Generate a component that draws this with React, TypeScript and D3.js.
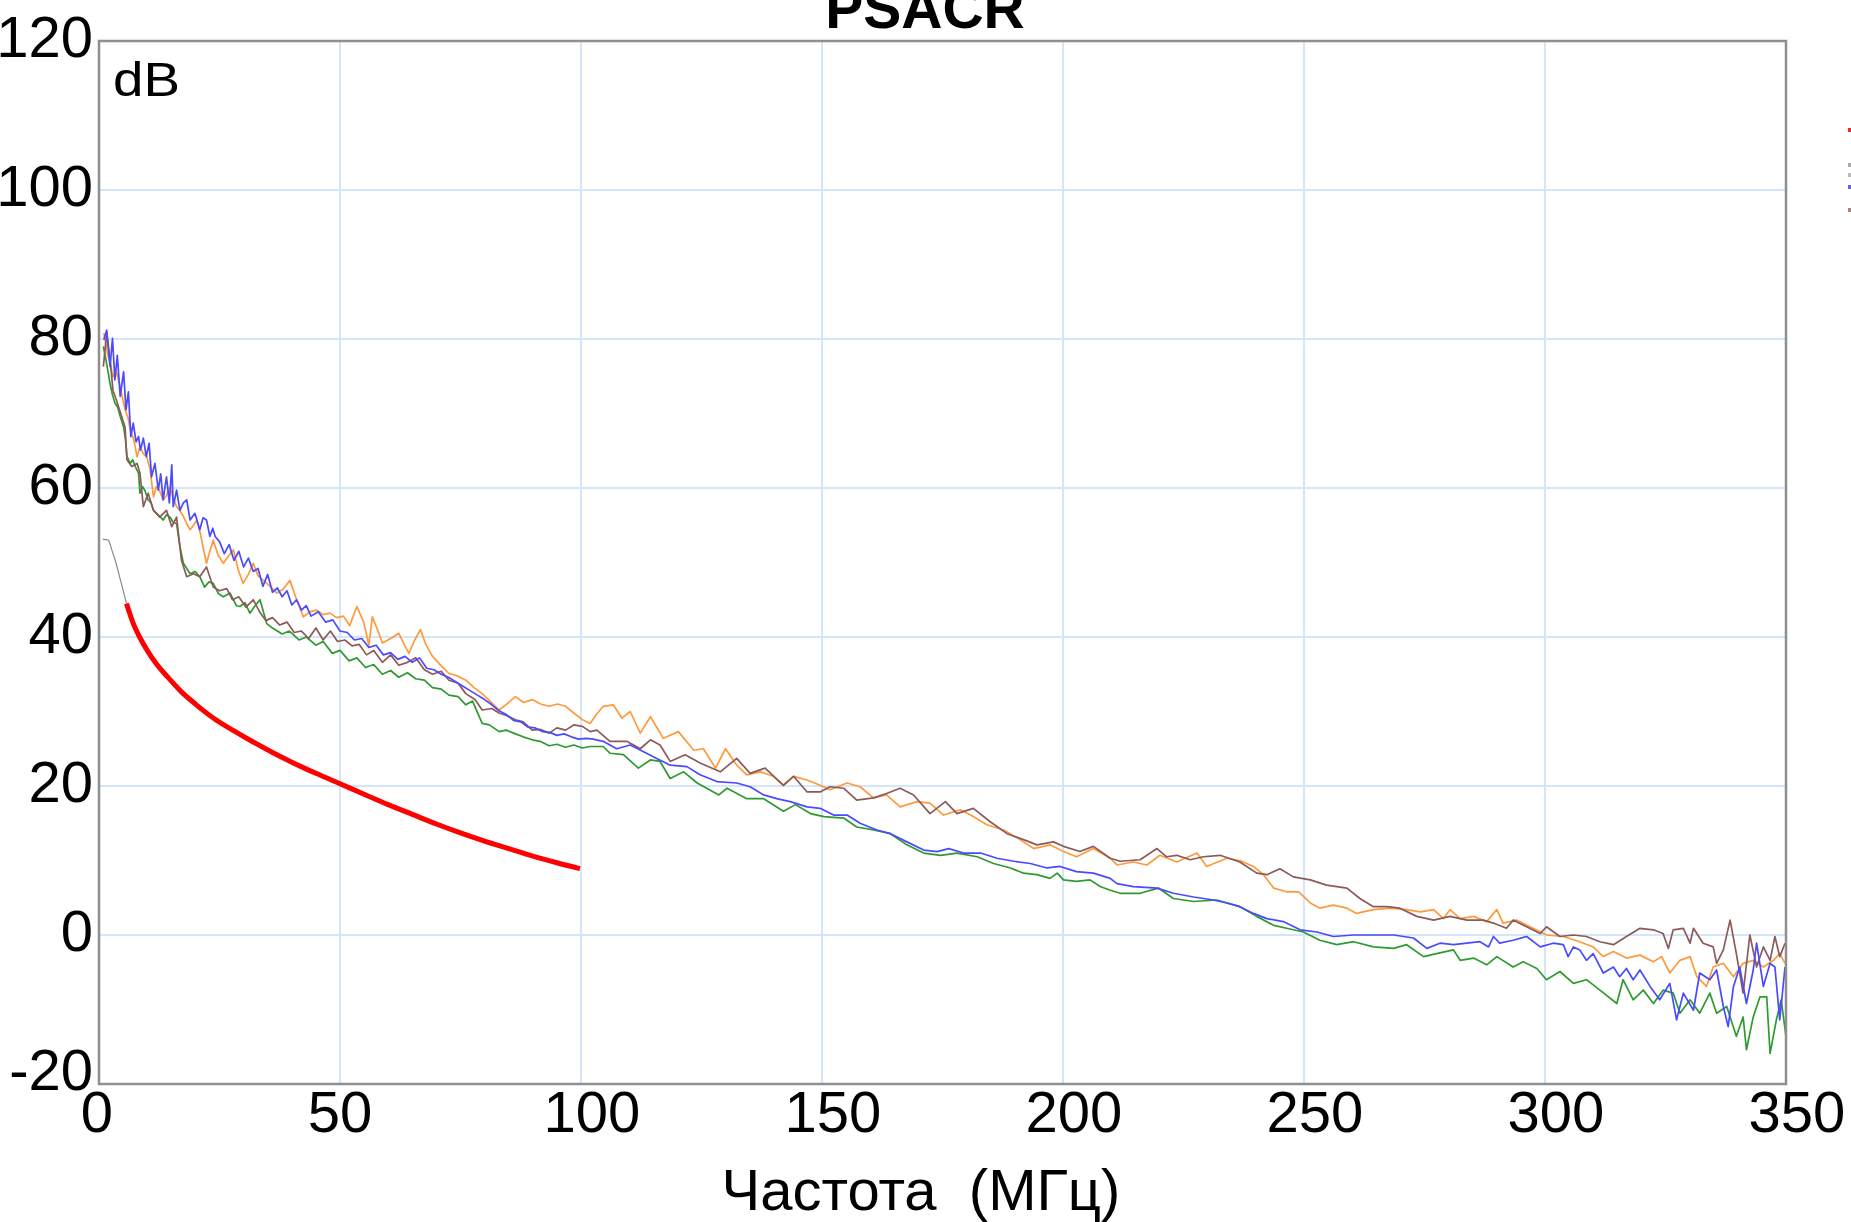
import React from "react";
import * as d3 from "d3";

const xTicks = [0, 50, 100, 150, 200, 250, 300, 350];
const yTicks = [-20, 0, 20, 40, 60, 80, 100, 120];
const titleText = "PSACR";
const xAxisTitle = "Частота  (МГц)";
const yUnit = "dB";

type P = [number, number];

const limitGray: P[] = [[0.8,53.1],[1.9,53.0],[2.7,51.6],[3.5,50.0],[4.3,48.0],[5.0,46.3],[5.7,44.5]];

const limitRed: P[] = [[5.7,44.5],[7.0,42.0],[8.5,39.9],[10.0,38.2],[12.0,36.3],[14.0,34.8],[17.0,32.7],[20.0,31.0],[24.0,29.0],[28.0,27.4],[32.0,25.9],[36.0,24.5],[40.0,23.2],[45.0,21.7],[50.0,20.3],[55.0,18.9],[60.0,17.5],[65.0,16.2],[70.0,14.9],[75.0,13.7],[80.0,12.6],[85.0,11.6],[90.0,10.6],[95.0,9.7],[99.8,8.9]];

const orangeData: P[] = [[1.0,80.8],[1.5,79.0],[1.9,77.6],[2.4,76.5],[2.9,74.9],[3.5,75.8],[4.4,73.6],[4.9,72.0],[5.4,70.5],[6.0,69.5],[6.5,67.8],[7.2,66.5],[7.9,64.2],[8.5,65.5],[9.2,64.6],[9.9,64.2],[10.6,62.5],[11.3,58.8],[11.9,60.2],[12.6,59.6],[13.3,58.4],[14.0,59.0],[14.7,60.2],[15.4,58.6],[16.1,57.5],[16.8,57.0],[17.5,56.2],[18.2,55.2],[18.9,54.4],[19.6,55.0],[20.3,55.7],[21.0,54.0],[21.6,52.0],[22.3,49.9],[23.0,51.5],[23.7,53.0],[24.7,51.0],[25.8,49.9],[26.8,50.8],[27.9,51.7],[28.9,49.0],[29.9,47.2],[31.0,48.4],[32.0,49.9],[33.0,48.2],[34.1,47.6],[35.5,46.8],[36.9,45.9],[38.2,46.4],[39.6,47.6],[41.0,45.0],[42.4,42.7],[43.8,43.4],[45.2,43.6],[46.5,43.0],[47.9,43.2],[49.3,42.6],[50.7,42.8],[52.0,41.5],[53.5,44.1],[54.9,42.0],[56.0,38.9],[56.7,42.7],[58.0,40.6],[58.8,39.2],[60.5,39.8],[62.2,40.5],[63.3,39.0],[64.3,37.8],[65.5,39.6],[66.7,41.0],[67.8,39.0],[69.2,37.4],[70.9,36.2],[72.6,35.1],[74.3,34.8],[76.1,34.2],[77.8,33.2],[79.5,32.4],[81.3,31.3],[83.0,30.2],[84.6,31.0],[86.4,32.0],[88.1,31.2],[89.9,31.6],[91.6,31.0],[93.4,30.7],[95.1,31.0],[96.8,30.7],[98.5,29.8],[100.3,28.9],[101.9,28.4],[103.2,29.6],[104.6,30.7],[106.7,30.9],[108.5,29.1],[110.2,30.0],[112.3,27.1],[114.4,29.3],[117.1,26.4],[120.2,27.3],[123.4,24.8],[125.4,25.0],[127.9,22.4],[130.0,25.0],[132.3,22.8],[134.4,21.5],[137.2,21.9],[139.9,21.3],[142.0,20.1],[144.1,21.3],[146.9,20.8],[149.6,20.1],[151.7,19.5],[155.2,20.4],[157.9,19.9],[160.7,18.4],[163.4,18.8],[166.2,17.2],[169.7,17.9],[172.4,17.7],[175.2,16.1],[178.7,16.8],[181.4,15.9],[184.2,14.8],[187.7,14.1],[191.1,12.8],[193.9,11.6],[197.3,12.1],[200.1,11.2],[202.8,10.5],[206.3,11.6],[209.8,10.3],[211.2,9.4],[214.6,9.8],[217.4,9.4],[220.1,10.7],[223.6,9.8],[227.8,11.0],[229.8,9.2],[234.0,10.3],[236.7,10.0],[239.5,9.2],[241.6,8.1],[243.7,6.3],[246.4,5.8],[248.9,5.8],[251.3,4.3],[253.3,3.6],[256.1,4.0],[258.9,3.6],[260.9,2.9],[264.4,3.4],[267.9,3.6],[271.3,3.4],[274.1,3.1],[276.9,3.4],[278.9,2.2],[280.3,3.4],[282.4,2.2],[285.2,2.5],[287.9,1.8],[290.0,3.4],[291.3,1.6],[294.1,2.0],[296.9,1.1],[300.3,0.0],[303.8,-0.2],[307.2,-0.9],[310.0,-1.6],[312.1,-2.9],[314.2,-2.2],[316.9,-3.1],[319.7,-2.7],[322.5,-3.6],[324.2,-2.9],[325.9,-5.1],[328.0,-3.4],[330.1,-2.9],[331.5,-5.6],[333.5,-6.9],[334.9,-4.3],[337.0,-3.8],[339.1,-5.6],[341.1,-3.8],[343.2,-3.4],[345.3,-4.3],[347.4,-3.4],[348.7,-2.5],[349.8,-3.8]];

const greenData: P[] = [[0.9,79.0],[1.5,77.0],[2.3,74.0],[2.8,72.5],[3.3,71.4],[3.9,70.8],[4.4,69.6],[5.1,68.2],[5.5,66.5],[5.8,64.2],[6.5,63.3],[7.0,63.8],[7.5,62.9],[8.2,62.0],[8.5,59.3],[9.0,60.2],[9.5,59.7],[10.2,58.4],[10.8,58.0],[11.3,57.0],[12.3,56.4],[13.3,55.7],[14.0,56.4],[14.7,56.1],[15.4,55.4],[16.1,55.2],[16.8,52.1],[17.5,49.9],[18.2,49.2],[18.9,48.5],[19.9,48.8],[20.9,48.1],[21.9,46.7],[22.8,47.4],[23.7,47.2],[24.8,45.8],[25.8,45.4],[27.2,45.9],[28.5,44.2],[29.2,44.1],[30.3,44.6],[31.3,43.2],[32.4,44.2],[33.4,45.0],[34.8,41.8],[36.0,41.2],[38.0,40.4],[39.5,40.8],[41.5,39.6],[43.0,40.0],[45.0,38.9],[46.5,39.4],[48.4,37.8],[50.0,38.2],[51.9,36.8],[53.5,37.2],[55.3,35.9],[57.0,36.3],[58.8,35.0],[60.5,35.5],[62.2,34.6],[64.0,35.2],[65.7,34.4],[67.5,34.2],[69.2,33.2],[71.0,33.0],[72.6,32.2],[74.5,32.0],[76.1,30.9],[77.5,31.4],[79.5,28.4],[81.0,28.2],[83.0,27.3],[84.5,27.5],[86.4,27.0],[88.0,26.6],[89.9,26.2],[91.5,26.0],[93.4,25.4],[95.0,25.6],[96.8,25.2],[98.5,25.5],[100.3,25.1],[101.9,25.3],[104.6,25.3],[106.0,24.4],[108.8,24.2],[111.9,22.4],[114.4,23.5],[116.4,23.3],[118.5,21.0],[121.3,21.9],[124.1,20.4],[128.6,18.8],[130.3,19.7],[134.4,18.3],[137.9,18.3],[142.0,16.6],[144.5,17.5],[147.6,16.3],[150.4,15.9],[154.5,15.7],[157.2,14.5],[160.7,14.1],[164.2,13.6],[167.6,12.1],[171.1,11.0],[174.6,10.7],[178.0,11.0],[182.2,10.5],[185.6,9.6],[189.1,9.0],[191.8,8.3],[194.6,8.1],[197.3,7.6],[198.8,8.3],[200.1,7.4],[202.8,7.2],[205.6,7.4],[207.7,6.5],[209.8,6.0],[211.9,5.6],[216.0,5.6],[219.8,6.3],[222.9,4.9],[227.1,4.5],[231.9,4.7],[236.7,3.8],[240.2,2.5],[243.7,1.3],[246.4,0.9],[249.9,0.4],[253.3,-0.7],[256.8,-1.3],[260.3,-0.9],[264.4,-1.6],[268.6,-1.8],[271.3,-1.3],[274.8,-2.9],[277.5,-2.5],[281.0,-2.0],[282.4,-3.4],[285.2,-3.1],[287.9,-4.0],[290.0,-2.9],[293.4,-4.3],[295.5,-3.6],[298.3,-4.5],[300.3,-6.0],[303.1,-4.9],[305.9,-6.5],[308.6,-6.0],[311.4,-7.4],[314.9,-9.2],[316.2,-6.0],[318.3,-8.7],[320.4,-7.4],[322.5,-9.2],[324.5,-7.4],[326.6,-7.8],[328.0,-10.5],[330.1,-8.7],[332.1,-10.5],[334.2,-7.8],[335.6,-10.5],[337.7,-9.6],[339.7,-13.6],[341.1,-11.0],[341.8,-15.4],[343.2,-11.0],[344.6,-8.3],[346.0,-8.3],[346.7,-15.9],[348.0,-11.4],[349.0,-8.7],[350.0,-13.6]];

const brownData: P[] = [[0.9,76.3],[1.6,80.8],[2.3,77.2],[2.9,73.1],[3.6,71.8],[4.7,69.6],[5.4,68.2],[5.8,63.8],[6.8,62.9],[7.9,63.3],[8.5,62.0],[9.2,57.5],[10.2,59.3],[11.3,57.0],[12.6,56.1],[14.0,57.0],[15.1,54.8],[16.1,56.1],[17.1,50.3],[18.2,48.1],[19.6,48.5],[20.9,48.1],[22.3,49.4],[23.7,46.7],[25.0,46.2],[26.5,46.5],[27.7,45.0],[29.0,45.4],[30.5,44.0],[32.0,45.0],[33.3,43.4],[34.6,42.2],[36.0,42.6],[37.5,41.6],[39.0,42.0],[40.5,40.6],[42.0,40.8],[43.5,39.8],[45.0,41.2],[46.5,39.6],[48.0,40.8],[49.5,39.4],[51.0,39.6],[52.5,38.8],[54.0,39.0],[55.5,37.6],[57.0,38.2],[58.8,36.6],[60.5,37.6],[62.2,36.2],[64.0,36.6],[65.7,37.2],[67.5,35.6],[69.2,35.0],[71.0,35.4],[72.6,34.2],[74.5,33.8],[76.1,32.4],[78.0,31.6],[79.5,30.2],[81.5,30.4],[83.0,29.8],[84.8,29.4],[86.4,28.9],[88.0,28.6],[89.9,27.5],[91.5,27.6],[93.4,27.1],[95.0,27.8],[96.8,27.5],[98.5,28.2],[100.3,28.0],[101.9,27.3],[103.3,27.5],[106.0,26.0],[109.5,26.0],[112.3,25.0],[114.4,26.2],[116.4,25.5],[118.5,23.3],[121.6,24.2],[124.7,23.1],[128.9,21.9],[132.3,23.7],[135.1,21.7],[138.2,22.4],[142.0,20.1],[144.1,21.3],[146.9,19.2],[149.6,19.2],[151.7,19.9],[154.5,19.7],[157.2,18.1],[160.7,18.4],[163.4,19.0],[166.2,19.7],[169.0,18.8],[172.4,16.3],[175.6,17.9],[178.0,16.3],[181.4,17.0],[184.9,15.2],[188.4,13.6],[191.8,12.8],[194.6,12.1],[198.0,12.5],[200.1,11.9],[203.5,11.2],[206.3,11.9],[209.8,10.3],[211.9,9.9],[216.0,10.1],[219.5,11.6],[221.5,10.5],[223.6,10.7],[226.4,10.1],[229.1,10.5],[232.6,10.7],[236.7,9.8],[240.2,8.3],[242.3,8.1],[245.0,8.9],[247.8,7.8],[251.3,7.4],[254.7,6.7],[258.9,6.3],[261.6,4.9],[264.4,3.8],[267.2,3.8],[269.9,3.6],[273.4,2.5],[276.9,2.0],[280.3,2.5],[283.8,2.0],[287.2,2.0],[289.3,1.6],[292.0,0.9],[293.4,2.0],[296.2,1.1],[299.0,0.2],[300.3,1.1],[303.1,-0.2],[305.9,0.0],[308.6,-0.2],[311.4,-0.9],[314.2,-1.3],[316.9,-0.2],[319.7,0.9],[322.5,0.7],[324.5,0.2],[325.6,-1.8],[326.6,0.7],[328.7,0.9],[330.1,-1.1],[330.8,0.9],[332.8,-1.1],[334.9,-1.6],[335.6,-3.8],[337.0,-2.0],[338.4,2.0],[339.7,-2.5],[341.1,-7.8],[342.5,0.0],[343.9,-4.3],[345.3,-1.6],[346.7,-3.4],[347.7,-0.2],[348.7,-2.9],[349.8,-1.1]];

const blueData: P[] = [[1.0,79.9],[1.6,81.2],[2.3,76.3],[2.8,80.1],[3.3,74.5],[3.8,77.8],[4.4,72.3],[5.1,75.6],[5.6,70.5],[6.1,72.9],[6.6,66.9],[7.1,68.7],[7.7,66.2],[8.2,66.9],[8.6,65.1],[9.2,66.7],[9.8,64.2],[10.4,66.0],[10.9,61.5],[11.6,63.3],[12.3,59.7],[12.8,61.9],[13.3,58.4],[14.0,61.5],[14.6,58.0],[15.1,63.1],[15.4,57.5],[16.1,59.7],[16.8,57.0],[17.5,58.0],[18.2,58.4],[18.9,55.7],[19.9,56.6],[20.9,54.4],[21.6,56.0],[22.3,55.7],[23.0,53.5],[23.6,54.6],[24.1,53.5],[25.0,52.8],[26.0,51.2],[27.0,52.4],[28.0,50.3],[29.0,51.5],[30.0,49.4],[31.0,50.6],[32.0,48.8],[33.0,49.2],[34.0,46.8],[35.0,48.4],[36.0,46.0],[37.0,46.6],[38.0,45.4],[39.0,46.2],[40.0,44.3],[41.0,45.0],[42.0,43.6],[43.0,44.2],[44.0,42.8],[45.5,43.4],[47.0,42.0],[48.5,42.3],[50.0,40.8],[51.5,40.6],[53.0,39.6],[54.5,39.8],[56.0,38.6],[57.5,38.9],[59.0,37.6],[60.5,37.9],[62.0,37.0],[63.5,37.4],[65.0,36.6],[66.5,37.2],[68.0,35.8],[69.5,35.6],[71.0,35.0],[72.5,34.6],[74.0,34.0],[75.5,33.4],[77.0,32.8],[78.5,32.2],[80.0,31.6],[81.5,30.9],[83.0,30.1],[84.5,29.6],[86.0,28.8],[87.5,28.6],[89.0,27.9],[90.5,27.8],[92.0,27.3],[93.5,27.2],[95.0,26.8],[96.5,27.0],[98.0,26.6],[99.5,26.3],[101.0,26.4],[102.5,26.3],[104.6,26.0],[107.4,25.0],[110.2,25.5],[113.0,24.6],[115.7,23.7],[118.5,22.8],[122.0,22.6],[124.7,21.5],[128.2,20.6],[132.3,20.4],[135.1,19.9],[137.9,18.8],[140.6,18.3],[143.4,17.9],[146.9,17.2],[149.6,17.0],[152.4,16.1],[155.2,16.1],[157.9,15.0],[161.4,14.1],[164.2,13.6],[167.6,12.5],[171.1,11.4],[173.9,11.2],[176.3,11.6],[179.4,11.0],[182.9,11.0],[186.3,10.3],[189.8,9.9],[193.2,9.6],[196.7,9.0],[199.4,9.2],[202.8,8.5],[206.3,8.3],[209.8,7.6],[211.2,6.9],[214.6,6.5],[219.5,6.3],[222.9,5.6],[227.1,5.1],[231.2,4.7],[234.0,4.3],[236.7,3.8],[239.5,2.9],[242.3,2.2],[245.7,1.8],[249.2,0.7],[252.7,0.4],[256.1,-0.2],[260.3,0.0],[264.4,0.0],[268.6,0.0],[272.7,-0.4],[275.5,-1.8],[278.2,-1.1],[281.0,-1.3],[283.8,-1.1],[286.5,-0.9],[288.3,-1.6],[289.3,-0.2],[290.6,-1.1],[293.4,-0.7],[296.2,-0.2],[299.0,-1.6],[301.7,-1.1],[303.8,-1.3],[304.8,-2.9],[305.9,-1.6],[307.2,-2.0],[308.6,-3.4],[310.0,-2.5],[312.1,-5.1],[314.2,-4.3],[315.5,-5.6],[316.9,-4.5],[318.3,-6.0],[319.7,-4.7],[321.8,-6.9],[323.8,-8.7],[325.9,-6.5],[327.3,-11.4],[328.7,-7.8],[330.8,-10.1],[332.1,-5.1],[334.2,-6.0],[335.6,-4.7],[337.0,-9.6],[338.0,-12.3],[339.1,-6.9],[340.4,-4.3],[341.8,-9.2],[343.2,-4.7],[343.9,-1.1],[345.3,-6.9],[346.7,-3.8],[347.7,-4.3],[348.7,-11.4],[349.8,-4.3]];

const legendStubColors = ["#ff2020", "#aaaaaa", "#bbbbbb", "#6060ff", "#b08080"];

const W = 1851;
const H = 1222;
const FONT = "'Liberation Sans', Arial, Helvetica, sans-serif";
// label offsets by number of characters (reference labels sit slightly right of 3-digit ticks)
const xLabelShift = [0, -2, 0, 11];

export default function App() {
  const x = d3.scaleLinear().domain([0, 350]).range([99, 1786]);
  const y = d3.scaleLinear().domain([-20, 120]).range([1084, 41]);
  const line = d3.line<P>().x((d) => x(d[0])).y((d) => y(d[1]));
  const smooth = d3.line<P>().x((d) => x(d[0])).y((d) => y(d[1])).curve(d3.curveMonotoneX);

  const series = [
    { data: orangeData, color: "#ff9a3c" },
    { data: greenData, color: "#2f9a2f" },
    { data: brownData, color: "#8c5a5a" },
    { data: blueData, color: "#4a4aff" },
  ];

  const legendY = [130, 165, 175, 187, 210];

  return (
    <svg width={W} height={H} style={{ position: "absolute", left: 0, top: 0, background: "#fff" }}>
      <rect x={0} y={0} width={W} height={H} fill="#ffffff" />
      {xTicks.filter((t) => t > 0 && t < 350).map((t) => (
        <line key={"gx" + t} x1={x(t)} x2={x(t)} y1={y(120)} y2={y(-20)} stroke="#d3e6fb" strokeWidth={2} />
      ))}
      {yTicks.filter((t) => t > -20 && t < 120).map((t) => (
        <line key={"gy" + t} x1={x(0)} x2={x(350)} y1={y(t)} y2={y(t)} stroke="#d3e6fb" strokeWidth={2} />
      ))}
      {series.map((s, i) => (
        <path key={i} d={line(s.data) || ""} fill="none" stroke={s.color} strokeWidth={1.7} strokeLinejoin="round" />
      ))}
      <path d={smooth(limitGray) || ""} fill="none" stroke="#8a8a8a" strokeWidth={1.2} />
      <path d={smooth(limitRed) || ""} fill="none" stroke="#ff0000" strokeWidth={5} strokeLinecap="butt" />
      <rect x={x(0)} y={y(120)} width={x(350) - x(0)} height={y(-20) - y(120)} fill="none" stroke="#8f8f8f" strokeWidth={2.5} />
      {yTicks.map((t) => (
        <text key={"yl" + t} x={93} y={Math.min(y(t) + 16, 1090)} textAnchor="end" fontFamily={FONT} fontSize={58} fill="#000">
          {t}
        </text>
      ))}
      {xTicks.map((t) => (
        <text key={"xl" + t} x={x(t) + xLabelShift[String(t).length]} y={1132} textAnchor="middle" fontFamily={FONT} fontSize={58} fill="#000">
          {t}
        </text>
      ))}
      <text x={113} y={96} fontFamily={FONT} fontSize={48} textLength={67} lengthAdjust="spacingAndGlyphs" fill="#000">{yUnit}</text>
      <text x={925} y={28} textAnchor="middle" fontFamily={FONT} fontSize={57} fontWeight="bold" fill="#000">
        {titleText}
      </text>
      <text x={921} y={1210} textAnchor="middle" fontFamily={FONT} fontSize={58} fill="#000" style={{ whiteSpace: "pre" }}>
        {xAxisTitle}
      </text>
      {legendStubColors.map((c, i) => (
        <rect key={"lg" + i} x={1848} y={legendY[i] - 2} width={3} height={4} fill={c} />
      ))}
    </svg>
  );
}
